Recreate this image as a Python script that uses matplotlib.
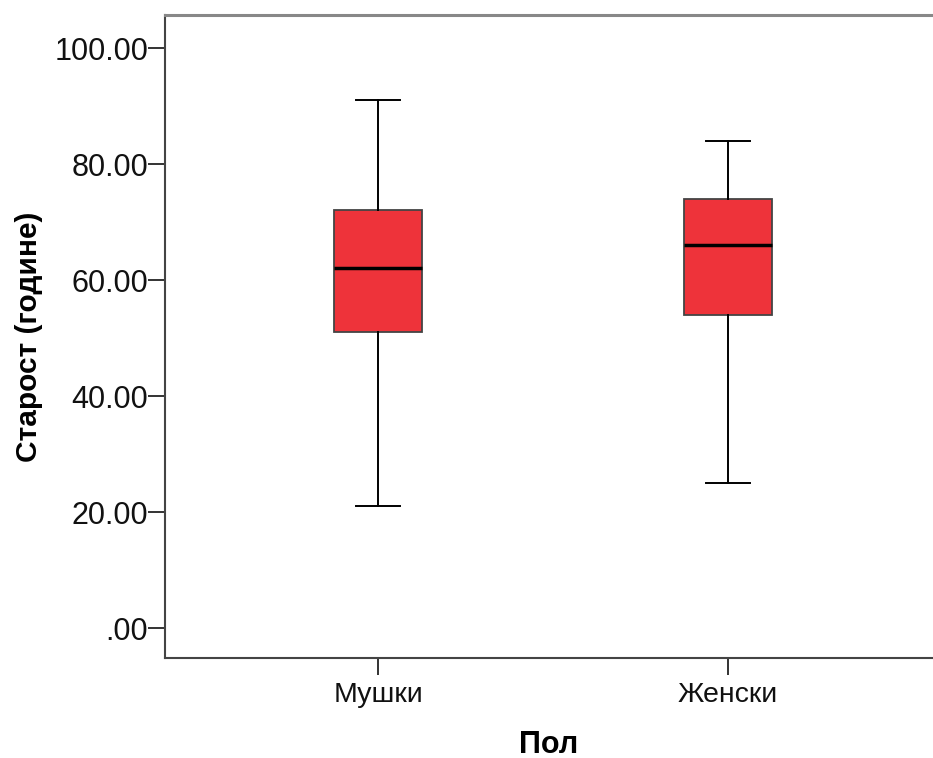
import matplotlib
matplotlib.use("Agg")
from matplotlib import pyplot as plt

plt.rcParams['font.family'] = ['Liberation Sans', 'DejaVu Sans']

# box statistics
groups = ["Мушки", "Женски"]
whislo = [21, 25]
q1 = [51, 54]
med = [62, 66]
q3 = [72, 74]
whishi = [91, 84]

yticks = [0, 20, 40, 60, 80, 100]
ytick_labels = [".00", "20.00", "40.00", "60.00", "80.00", "100.00"]

stats = []
for i in range(len(groups)):
    stats.append({"label": groups[i], "whislo": whislo[i], "q1": q1[i],
                  "med": med[i], "q3": q3[i], "whishi": whishi[i], "fliers": []})

fig = plt.figure(figsize=(9.33, 7.58), dpi=100)
ax = fig.add_axes([165 / 933, 100 / 758, 768 / 933, 643 / 758])

ax.bxp(stats, positions=[1, 2], widths=0.249, patch_artist=True,
       showfliers=False, capwidths=0.123,
       boxprops=dict(facecolor="#EE333A", edgecolor="#444444", linewidth=1.3),
       medianprops=dict(color="black", linewidth=2.5),
       whiskerprops=dict(color="black", linewidth=1.4),
       capprops=dict(color="black", linewidth=1.4))

ax.set_xlim(0.3914, 2.5857)
ax.set_ylim(-5.17, 105.7)
ax.set_yticks(yticks)
ax.set_yticklabels(ytick_labels)
ax.set_xticks([1, 2])
ax.set_xticklabels(groups)

ax.tick_params(axis="both", length=12, width=1.4, color="#333333",
               labelsize=22, pad=0, labelcolor="#111111")
ax.tick_params(axis="x", labelsize=20.5, pad=5)

ax.spines["right"].set_visible(False)
ax.spines["left"].set_color("#444444")
ax.spines["left"].set_linewidth(1.5)
ax.spines["bottom"].set_color("#444444")
ax.spines["bottom"].set_linewidth(1.5)
ax.spines["top"].set_color("#888888")
ax.spines["top"].set_linewidth(2.2)

ax.set_ylabel("Старост (године)", fontsize=21.5, fontweight="bold", labelpad=8)
ax.set_xlabel("Пол", fontsize=22, fontweight="bold", labelpad=16)

fig.savefig("out.png", dpi=100)
